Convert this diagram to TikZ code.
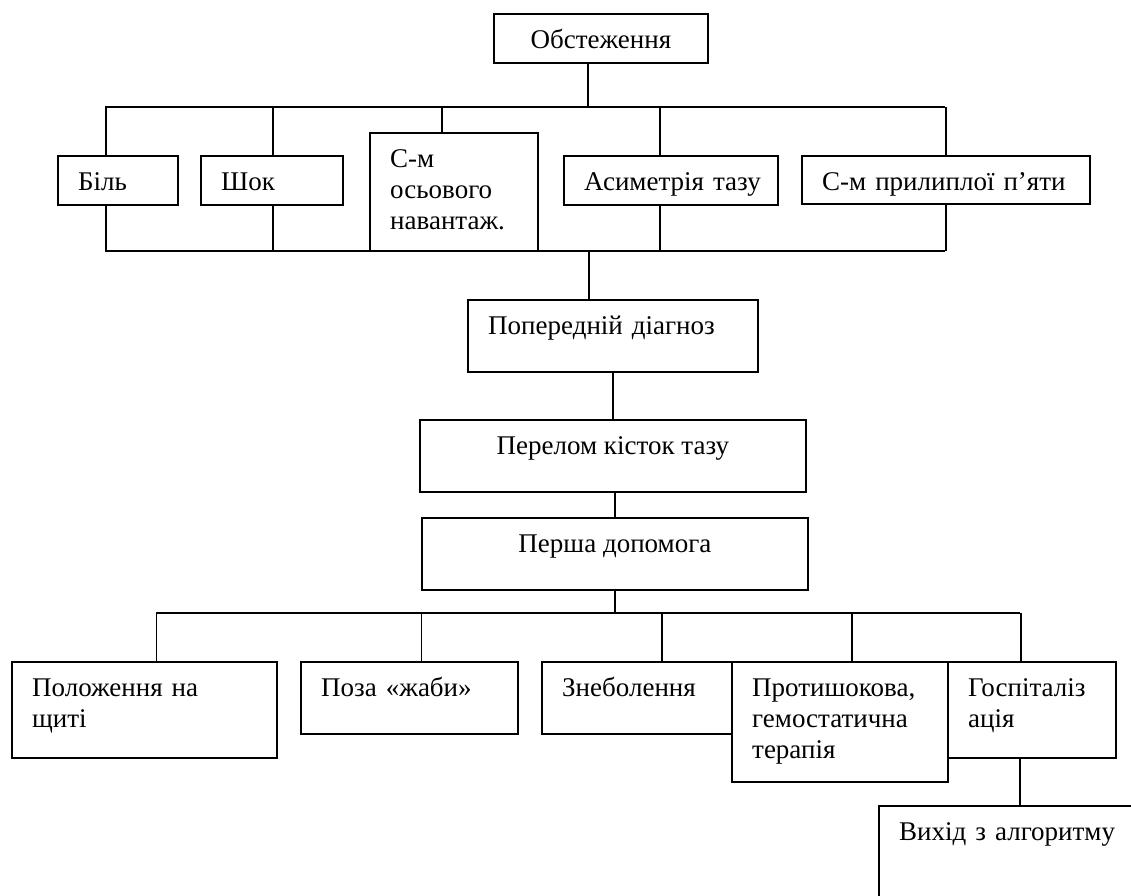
\documentclass[tikz,border=0pt]{standalone}
\usepackage{fontspec}
\setmainfont{Liberation Serif}
\usetikzlibrary{positioning,backgrounds}

\begin{document}
\begin{tikzpicture}[x=1pt, y=-1pt, font=\fontsize{27}{31}\selectfont,
    box/.style={draw, line width=1.8pt, fill=white, anchor=north west, inner sep=0pt},
    wire/.style={line width=1.3pt},
    lt/.style={label={[anchor=base west, text width=300pt, align=left, inner sep=0pt, xshift=21pt, yshift=-35pt]north west:#1}},
    ct/.style={label={[anchor=base, inner sep=0pt, yshift=-35pt]north:#1}}]

  \useasboundingbox (0,0) rectangle (1131,895);

  % --- Top: examination and symptoms ---
  \node[box, minimum width=214pt, minimum height=49pt, ct=Обстеження] (obs) at (493,13) {};
  \node[box, minimum width=120pt, minimum height=49pt, lt=Біль] (bil) at (57,155) {};
  \node[box, minimum width=142pt, minimum height=49pt, lt=Шок] (shok) at (200,155) {};
  \node[box, minimum width=168pt, minimum height=118pt, lt={С-м\\осьового\\навантаж.}] (osy) at (369,132) {};
  \node[box, minimum width=214pt, minimum height=49pt, lt={Асиметрія тазу}] (asym) at (563,155) {};
  \node[box, minimum width=288pt, minimum height=48pt, lt={С-м прилиплої п’яти}] (pryl) at (801,155) {};

  % --- Middle: diagnosis chain ---
  \node[box, minimum width=290pt, minimum height=72pt, lt={Попередній діагноз}] (pd) at (467,299) {};
  \node[box, minimum width=386pt, minimum height=72pt, ct={Перелом кісток тазу}] (per) at (419,419) {};
  \node[box, minimum width=386pt, minimum height=72pt, ct={Перша допомога}] (first) at (421,517) {};

  % --- Bottom: first aid measures ---
  \node[box, minimum width=265pt, minimum height=96pt, lt={Положення на\\щиті}] (pol) at (11,661) {};
  \node[box, minimum width=217pt, minimum height=72pt, lt={Поза «жаби»}] (poza) at (300,661) {};
  \node[box, minimum width=200pt, minimum height=72pt, lt=Знеболення] (zneb) at (541,661) {};
  \node[box, minimum width=216pt, minimum height=120pt, lt={Протишокова,\\гемостатична\\терапія}] (prot) at (731,661) {};
  \node[box, minimum width=168pt, minimum height=96pt, lt={Госпіталіз\\ація}] (hosp) at (947,661) {};
  \node[box, minimum width=300pt, minimum height=150pt, lt={Вихід з алгоритму}] (vykh) at (878,805) {};

  \begin{scope}[on background layer]
    \coordinate (t1) at (105,107);
    \coordinate (t2) at (945,107);
    \coordinate (b1) at (105,251);
    \coordinate (b2) at (945,251);
    \coordinate (c1) at (156,613);
    \coordinate (c2) at (1020,613);

    \draw[wire] (t1) -- (t2);
    \draw[wire] (b1) -- (b2);
    \draw[wire] ([xshift=-13pt]obs.south) -- ([xshift=-13pt]obs.south |- t1);
    \draw[wire] ([xshift=-12pt]bil.north) -- ([xshift=-12pt]bil.north |- t1);
    \draw[wire] ([xshift=1pt]shok.north) -- ([xshift=1pt]shok.north |- t1);
    \draw[wire] ([xshift=-12pt]osy.north) -- ([xshift=-12pt]osy.north |- t1);
    \draw[wire] ([xshift=-11pt]asym.north) -- ([xshift=-11pt]asym.north |- t1);
    \draw[wire] (pryl.north) -- (pryl.north |- t1);
    \draw[wire] ([xshift=-12pt]bil.south) -- ([xshift=-12pt]bil.south |- b1);
    \draw[wire] ([xshift=1pt]shok.south) -- ([xshift=1pt]shok.south |- b1);
    \draw[wire] ([xshift=-11pt]asym.south) -- ([xshift=-11pt]asym.south |- b1);
    \draw[wire] (pryl.south) -- (pryl.south |- b1);

    \draw[wire] ([xshift=-24pt]pd.north) -- ([xshift=-24pt]pd.north |- b1);
    \draw[wire] (pd.south) -- (pd.south |- per.north);
    \draw[wire] (first.north) -- (first.north |- per.south);

    \draw[wire] (c1) -- (c2);
    \draw[wire] (first.south) -- (first.south |- c1);
    \draw[wire] ([xshift=12pt]pol.north) -- ([xshift=12pt]pol.north |- c1);
    \draw[wire] ([xshift=12pt]poza.north) -- ([xshift=12pt]poza.north |- c1);
    \draw[wire] ([xshift=20pt]zneb.north) -- ([xshift=20pt]zneb.north |- c1);
    \draw[wire] ([xshift=12pt]prot.north) -- ([xshift=12pt]prot.north |- c1);
    \draw[wire] ([xshift=-11pt]hosp.north) -- ([xshift=-11pt]hosp.north |- c1);
    \draw[wire] ([xshift=-12pt]hosp.south) -- ([xshift=-12pt]hosp.south |- vykh.north);
  \end{scope}
\end{tikzpicture}
\end{document}
